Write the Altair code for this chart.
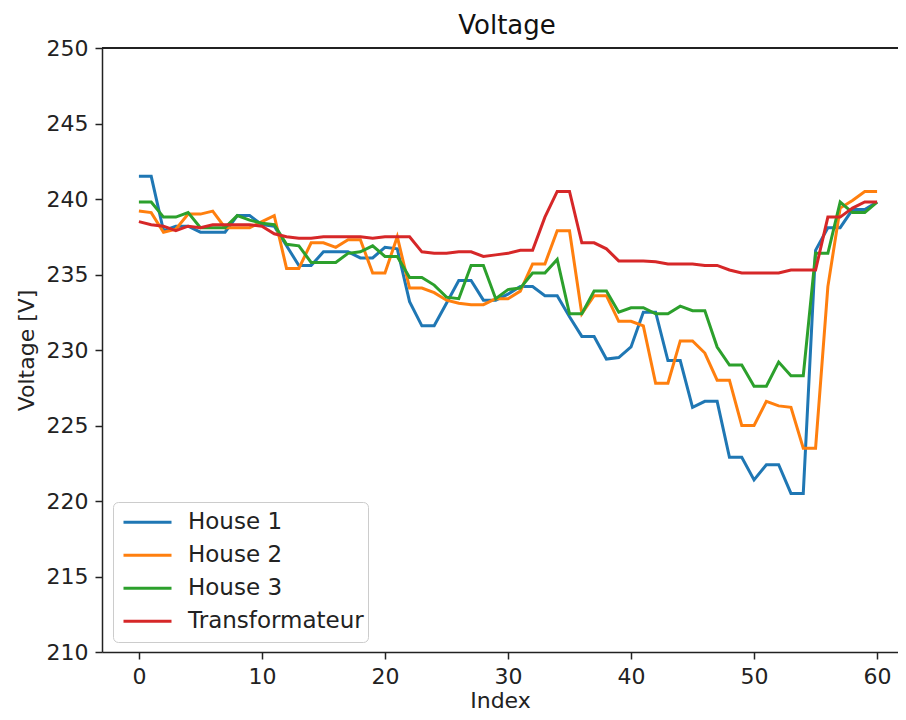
import altair as alt
import pandas as pd

index = list(range(61))

house1 = [241.5, 241.5, 237.9, 238.2, 238.2, 237.8, 237.8, 237.8, 238.9, 238.9,
          238.3, 238.2, 236.9, 235.6, 235.6, 236.5, 236.5, 236.5, 236.1, 236.1,
          236.8, 236.7, 233.2, 231.6, 231.6, 233.1, 234.6, 234.6, 233.3, 233.3,
          233.7, 234.2, 234.2, 233.6, 233.6, 232.2, 230.9, 230.9, 229.4, 229.5,
          230.2, 232.5, 232.5, 229.3, 229.3, 226.2, 226.6, 226.6, 222.9, 222.9,
          221.4, 222.4, 222.4, 220.5, 220.5, 236.6, 238.1, 238.1, 239.3, 239.3, 239.8]

house2 = [239.2, 239.1, 237.8, 238.0, 239.0, 239.0, 239.2, 238.1, 238.1, 238.1,
          238.5, 238.9, 235.4, 235.4, 237.1, 237.1, 236.8, 237.3, 237.3, 235.1,
          235.1, 237.5, 234.1, 234.1, 233.8, 233.3, 233.1, 233.0, 233.0, 233.4,
          233.4, 233.9, 235.7, 235.7, 237.9, 237.9, 232.4, 233.6, 233.6, 231.9,
          231.9, 231.6, 227.8, 227.8, 230.6, 230.6, 229.8, 228.0, 228.0, 225.0,
          225.0, 226.6, 226.3, 226.2, 223.5, 223.5, 234.2, 239.4, 239.9, 240.5, 240.5]

house3 = [239.8, 239.8, 238.8, 238.8, 239.1, 238.1, 238.1, 238.1, 238.9, 238.6,
          238.4, 238.3, 237.0, 236.9, 235.8, 235.8, 235.8, 236.4, 236.5, 236.9,
          236.2, 236.2, 234.8, 234.8, 234.3, 233.5, 233.4, 235.6, 235.6, 233.4,
          234.0, 234.1, 235.1, 235.1, 236.0, 232.4, 232.4, 233.9, 233.9, 232.5,
          232.8, 232.8, 232.4, 232.4, 232.9, 232.6, 232.6, 230.2, 229.0, 229.0,
          227.6, 227.6, 229.2, 228.3, 228.3, 236.4, 236.4, 239.8, 239.1, 239.1, 239.8]

transformateur = [238.5, 238.3, 238.2, 237.9, 238.2, 238.1, 238.3, 238.3, 238.3, 238.3,
                  238.2, 237.7, 237.5, 237.4, 237.4, 237.5, 237.5, 237.5, 237.5, 237.4,
                  237.5, 237.5, 237.5, 236.5, 236.4, 236.4, 236.5, 236.5, 236.2, 236.3,
                  236.4, 236.6, 236.6, 238.8, 240.5, 240.5, 237.1, 237.1, 236.7, 235.9,
                  235.9, 235.9, 235.85, 235.7, 235.7, 235.7, 235.6, 235.6, 235.3, 235.1,
                  235.1, 235.1, 235.1, 235.3, 235.3, 235.3, 238.8, 238.8, 239.4, 239.8, 239.8]

series_names = ["House 1", "House 2", "House 3", "Transformateur"]
series_values = [house1, house2, house3, transformateur]
colors = ["#1f77b4", "#ff7f0e", "#2ca02c", "#d62728"]

x_ticks = [0, 10, 20, 30, 40, 50, 60]
y_ticks = [210, 215, 220, 225, 230, 235, 240, 245, 250]

rows = []
for name, vals in zip(series_names, series_values):
    for i, v in zip(index, vals):
        rows.append({"Index": i, "Voltage": v, "Series": name})
df = pd.DataFrame(rows)

FONT = "DejaVu Sans"

lines = alt.Chart(df).mark_line(strokeWidth=3).encode(
    x=alt.X("Index:Q", scale=alt.Scale(domain=[-3, 61.7], nice=False, zero=False),
            axis=alt.Axis(values=x_ticks, title="Index", grid=False, format="d",
                          titlePadding=3)),
    y=alt.Y("Voltage:Q", scale=alt.Scale(domain=[210, 250], nice=False, zero=False),
            axis=alt.Axis(values=y_ticks, title="Voltage [V]", grid=False, format="d")),
    color=alt.Color("Series:N",
                    scale=alt.Scale(domain=series_names, range=colors),
                    sort=series_names,
                    legend=alt.Legend(title=None, orient="none", legendX=11, legendY=454,
                                      symbolType="stroke", symbolSize=2304,
                                      symbolStrokeWidth=3, symbolOffset=5,
                                      labelFontSize=23,
                                      labelFont=FONT, labelColor="#222222",
                                      labelLimit=400, clipHeight=32.5,
                                      fillColor="white", strokeColor="#cccccc",
                                      cornerRadius=5, padding=4, rowPadding=0,
                                      labelOffset=15)),
)

top_spine = alt.Chart(df).mark_rule(color="#222222", strokeWidth=1.5).encode(
    y=alt.datum(250)
)

chart = alt.layer(top_spine, lines).properties(
    width=796, height=604,
    autosize=alt.AutoSizeParams(type="none"),
    padding={"left": 94, "top": 40, "right": 0, "bottom": 60},
    title=alt.TitleParams("Voltage", fontSize=26, font=FONT, fontWeight="normal",
                          color="#111111", offset=10, dx=7, dy=12),
).configure_view(stroke=None).configure_axis(
    labelFont=FONT, titleFont=FONT, labelFontSize=22, titleFontSize=22,
    titleFontWeight="normal", labelColor="#222222", titleColor="#222222",
    domainColor="#222222", domainWidth=1.5, tickColor="#222222", tickWidth=1.5,
    tickSize=7, labelPadding=7, titlePadding=8
)

chart.save("out.html", embed_options={"renderer": "svg", "actions": False})
